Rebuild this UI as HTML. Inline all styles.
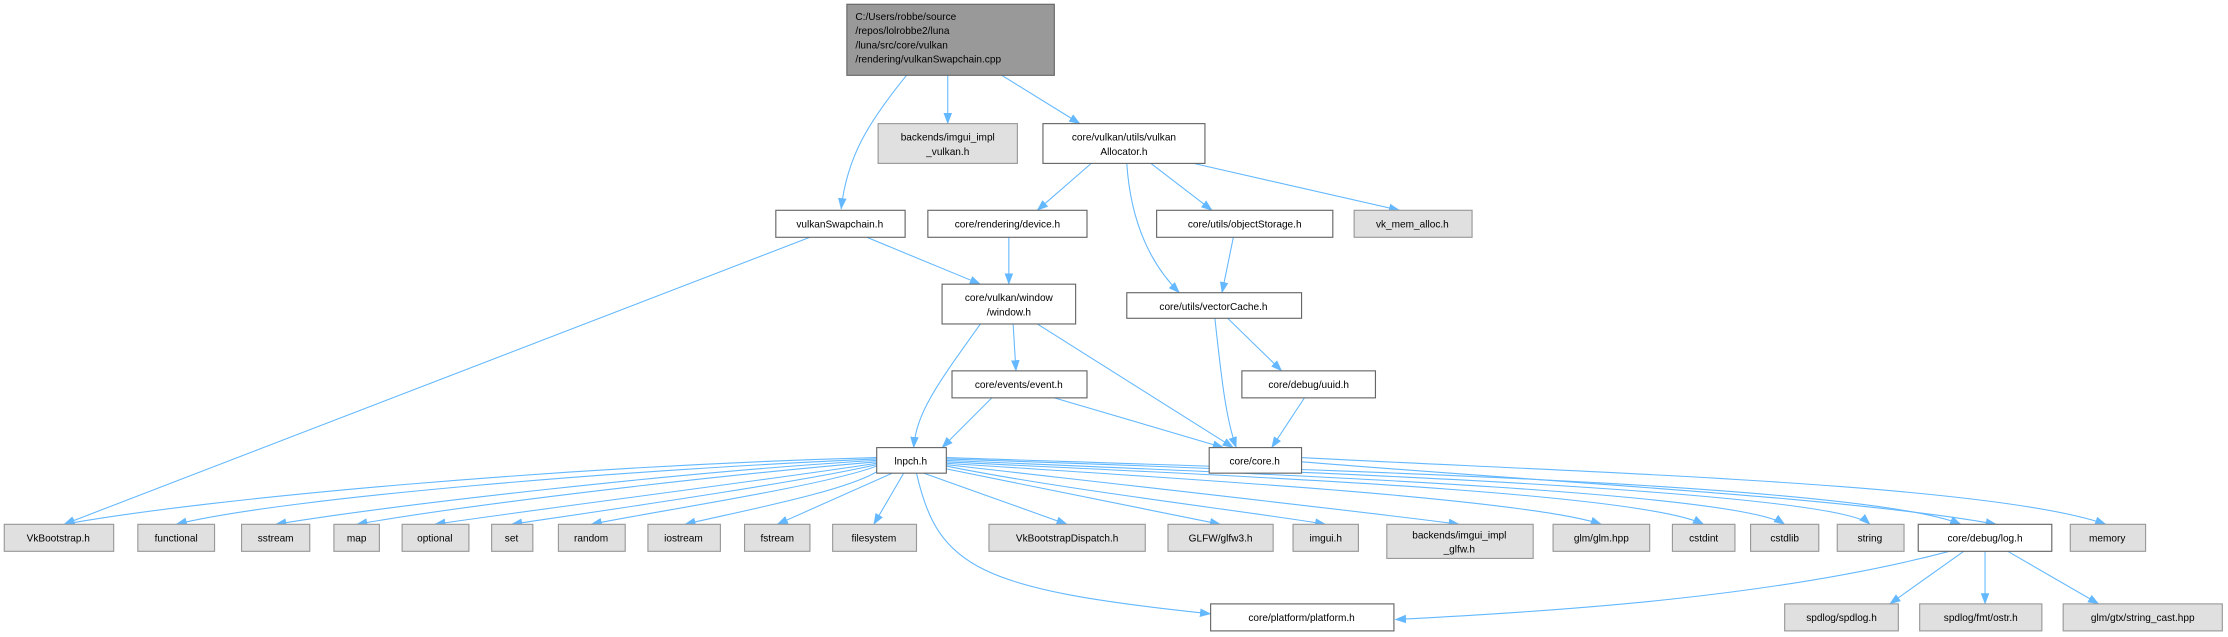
<!DOCTYPE html>
<html><head><meta charset="utf-8"><style>
html,body{margin:0;padding:0;background:#fff;width:2228px;height:637px;overflow:hidden}
svg text{font-family:"Liberation Sans",Arial,sans-serif;font-size:7.1px;fill:#000;text-anchor:middle}
.w{fill:#fff;stroke:#666;stroke-width:0.8}
.g{fill:#e0e0e0;stroke:#999;stroke-width:0.8}
.e{fill:none;stroke:#63b8ff;stroke-width:0.75}
</style></head><body>
<svg width="2228" height="637" viewBox="0 0 1568 448.3" xmlns="http://www.w3.org/2000/svg">
<defs><marker id="a" markerWidth="8" markerHeight="6" refX="7.5" refY="3" orient="auto" markerUnits="userSpaceOnUse"><path d="M0,0 L8,3 L0,6 z" fill="#63b8ff"/></marker></defs>
<g class="e" marker-end="url(#a)">
<path d="M638,53 C612,85 596,110 592,147"/>
<path d="M667,53 L667,87"/>
<path d="M705,53 L760,87"/>
<path d="M768,115 L730,148"/>
<path d="M793,115 C796,160 812,188 830,206"/>
<path d="M810,115 L853,148"/>
<path d="M840,115 L985,148"/>
<path d="M570,167 L45,369"/>
<path d="M610,167 L690,200"/>
<path d="M710,167 L710,200"/>
<path d="M868,167 L860,206"/>
<path d="M690,228 C660,270 645,290 643,315"/>
<path d="M713,228 L715,261"/>
<path d="M730,228 L868,315"/>
<path d="M698,280 L663,315"/>
<path d="M742,280 L861,315"/>
<path d="M855,224 C860,270 863,295 870,315"/>
<path d="M864,224 L902,261"/>
<path d="M918,280 L895,315"/>
<path d="M916,322 C1100,332 1400,340 1482,369"/>
<path d="M916,325 C1100,340 1300,350 1405,369"/>
<path d="M617,322 C400,328 150,350 45,369"/>
<path d="M617,323 C450,330 200,350 124,369"/>
<path d="M617,324 C480,332 280,355 194,369"/>
<path d="M617,325 C500,335 330,355 251,369"/>
<path d="M617,326 C540,338 380,358 306,369"/>
<path d="M617,327 C560,340 420,360 360,369"/>
<path d="M617,328 C580,342 460,360 416,369"/>
<path d="M620,330 C600,345 520,360 482,369"/>
<path d="M628,333 L547,369"/>
<path d="M636,333 L615,369"/>
<path d="M650,333 L751,369"/>
<path d="M666,330 L859,369"/>
<path d="M666,328 C750,345 880,360 933,369"/>
<path d="M666,327 C780,340 960,360 1027,369"/>
<path d="M666,326 C800,335 1070,350 1127,369"/>
<path d="M666,325 C820,333 1150,345 1199,369"/>
<path d="M666,324 C850,332 1220,345 1256,369"/>
<path d="M666,323 C880,330 1290,345 1316,369"/>
<path d="M666,322 C900,330 1310,340 1380,369"/>
<path d="M645,333 C660,400 690,415 852,432"/>
<path d="M1372,388 C1250,420 1100,430 982,436"/>
<path d="M1382,388 L1330,425"/>
<path d="M1397,388 L1397,425"/>
<path d="M1413,388 L1477,425"/>
</g>
<rect x="596" y="3" width="146" height="50" fill="#999" stroke="#666" stroke-width="0.8"/>
<g style="text-anchor:start"><text x="602" y="14" style="text-anchor:start">C:/Users/robbe/source</text><text x="602" y="24" style="text-anchor:start">/repos/lolrobbe2/luna</text><text x="602" y="34" style="text-anchor:start">/luna/src/core/vulkan</text><text x="602" y="44" style="text-anchor:start">/rendering/vulkanSwapchain.cpp</text></g>
<rect class="g" x="618" y="87" width="98" height="28"/><text x="667" y="99">backends/imgui_impl</text><text x="667" y="109">_vulkan.h</text>
<rect class="w" x="734" y="87" width="114" height="28"/><text x="791" y="99">core/vulkan/utils/vulkan</text><text x="791" y="109">Allocator.h</text>
<rect class="w" x="546" y="148" width="91" height="19"/><text x="591" y="160">vulkanSwapchain.h</text>
<rect class="w" x="653" y="148" width="112" height="19"/><text x="709" y="160">core/rendering/device.h</text>
<rect class="w" x="814" y="148" width="124" height="19"/><text x="876" y="160">core/utils/objectStorage.h</text>
<rect class="g" x="953" y="148" width="83" height="19"/><text x="994" y="160">vk_mem_alloc.h</text>
<rect class="w" x="663" y="200" width="94" height="28"/><text x="710" y="212">core/vulkan/window</text><text x="710" y="222">/window.h</text>
<rect class="w" x="793" y="206" width="123" height="18"/><text x="854" y="218">core/utils/vectorCache.h</text>
<rect class="w" x="670" y="261" width="95" height="19"/><text x="717" y="273">core/events/event.h</text>
<rect class="w" x="874" y="261" width="94" height="19"/><text x="921" y="273">core/debug/uuid.h</text>
<rect class="w" x="617" y="315" width="49" height="18"/><text x="641" y="327">lnpch.h</text>
<rect class="w" x="851" y="315" width="65" height="18"/><text x="883" y="327">core/core.h</text>
<g>
<rect class="g" x="3" y="369" width="77" height="19"/><text x="41" y="381">VkBootstrap.h</text>
<rect class="g" x="97" y="369" width="54" height="19"/><text x="124" y="381">functional</text>
<rect class="g" x="170" y="369" width="48" height="19"/><text x="194" y="381">sstream</text>
<rect class="g" x="235" y="369" width="32" height="19"/><text x="251" y="381">map</text>
<rect class="g" x="283" y="369" width="47" height="19"/><text x="306" y="381">optional</text>
<rect class="g" x="346" y="369" width="29" height="19"/><text x="360" y="381">set</text>
<rect class="g" x="393" y="369" width="47" height="19"/><text x="416" y="381">random</text>
<rect class="g" x="456" y="369" width="51" height="19"/><text x="481" y="381">iostream</text>
<rect class="g" x="524" y="369" width="46" height="19"/><text x="547" y="381">fstream</text>
<rect class="g" x="586" y="369" width="59" height="19"/><text x="615" y="381">filesystem</text>
<rect class="g" x="696" y="369" width="110" height="19"/><text x="751" y="381">VkBootstrapDispatch.h</text>
<rect class="g" x="822" y="369" width="74" height="19"/><text x="859" y="381">GLFW/glfw3.h</text>
<rect class="g" x="910" y="369" width="46" height="19"/><text x="933" y="381">imgui.h</text>
<rect class="g" x="976" y="369" width="103" height="24"/><text x="1027" y="379">backends/imgui_impl</text><text x="1027" y="389">_glfw.h</text>
<rect class="g" x="1093" y="369" width="68" height="19"/><text x="1127" y="381">glm/glm.hpp</text>
<rect class="g" x="1177" y="369" width="44" height="19"/><text x="1199" y="381">cstdint</text>
<rect class="g" x="1232" y="369" width="48" height="19"/><text x="1256" y="381">cstdlib</text>
<rect class="g" x="1293" y="369" width="47" height="19"/><text x="1316" y="381">string</text>
<rect class="w" x="1350" y="369" width="94" height="19"/><text x="1397" y="381">core/debug/log.h</text>
<rect class="g" x="1457" y="369" width="53" height="19"/><text x="1483" y="381">memory</text>
</g>
<rect class="w" x="852" y="425" width="129" height="19"/><text x="916" y="437">core/platform/platform.h</text>
<rect class="g" x="1256" y="425" width="80" height="19"/><text x="1296" y="437">spdlog/spdlog.h</text>
<rect class="g" x="1351" y="425" width="86" height="19"/><text x="1394" y="437">spdlog/fmt/ostr.h</text>
<rect class="g" x="1452" y="425" width="112" height="19"/><text x="1508" y="437">glm/gtx/string_cast.hpp</text>
</svg>
</body></html>
